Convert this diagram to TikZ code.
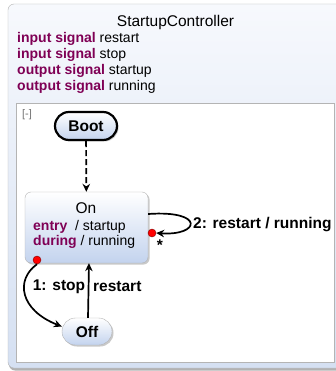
\documentclass[tikz,border=0pt]{standalone}
\usepackage{fontspec}
\setmainfont{Liberation Sans}
\usetikzlibrary{shadows,arrows.meta}
\definecolor{kw}{HTML}{7F0055}
\definecolor{stblue}{HTML}{C3D3EE}
\definecolor{boxtop}{HTML}{F7F9FD}
\definecolor{boxbot}{HTML}{D5E0F2}
\definecolor{frame}{HTML}{B4B4B4}
\begin{document}
\begin{tikzpicture}[x=1pt,y=-1pt,
  bodyfont/.style={font=\fontsize{14}{16}\selectfont},
  bigfont/.style={font=\fontsize{15.5}{18}\selectfont},
  lbl/.style={inner sep=0pt, font=\bfseries\fontsize{15.5}{18}\selectfont},
  statebox/.style={draw=frame, rounded corners=6pt, top color=white, bottom color=stblue,
    drop shadow={shadow xshift=1.5pt, shadow yshift=-1.5pt, fill=black!35, opacity=0.6}, inner sep=0pt},
  edge/.style={line width=1.7pt, -{Stealth[length=8pt,width=7.5pt]}},
  reddot/.style={circle, fill=red, draw=red!50!black, line width=0.4pt, minimum size=8pt, inner sep=0pt}]
\clip (0,0) rectangle (336,371);
\fill[white] (0,0) rectangle (336,371);
% outer box
\fill[black!30, rounded corners=6pt] (9,6) rectangle (352,370.5);
\draw[frame, top color=boxtop, bottom color=boxbot, rounded corners=6pt] (8,4) rectangle (350,368);
\node[bigfont] (title) at (175.5,22) {StartupController};
\node[bodyfont, anchor=base west, inner sep=0pt] (s1) at (17,43) {\textcolor{kw}{\bfseries input signal} restart};
\node[bodyfont, anchor=base west, inner sep=0pt] (s2) at (17,59) {\textcolor{kw}{\bfseries input signal} stop};
\node[bodyfont, anchor=base west, inner sep=0pt] (s3) at (17,75) {\textcolor{kw}{\bfseries output signal} startup};
\node[bodyfont, anchor=base west, inner sep=0pt] (s4) at (17,90.5) {\textcolor{kw}{\bfseries output signal} running};
% inner region
\draw[frame, fill=white] (16,103) rectangle (334,362);
\node[text=black!55, font=\fontsize{11}{12}\selectfont] (collapse) at (27,115) {[-]};
% states
\node[statebox, draw=black, line width=2.2pt, rounded corners=14pt, minimum width=62pt, minimum height=28pt,
  font=\bfseries\fontsize{15.5}{18}\selectfont] (boot) at (86,126) {Boot};
\node[statebox, minimum width=123pt, minimum height=71pt] (on) at (86.5,227.5) {};
\node[bigfont] (ontitle) at (86,208) {On};
\node[bodyfont, anchor=base west, inner sep=0pt] (entry) at (33,230) {\textcolor{kw}{\bfseries entry}\ \ / startup};
\node[bodyfont, anchor=base west, inner sep=0pt] (during) at (33,245.5) {\textcolor{kw}{\bfseries during}\ / running};
\node[statebox, rounded corners=13.5pt, minimum width=50pt, minimum height=27pt,
  font=\bfseries\fontsize{15.5}{18}\selectfont] (off) at (87,331.5) {Off};
% priority dots
\node[reddot] (d1) at (152,233) {};
\node[reddot] (d2) at (37,260) {};
% transitions
\draw[edge, dash pattern=on 6pt off 3pt] (boot) -- (on);
\draw[edge] ([yshift=13.5pt]on.east) .. controls +(57,-4) and +(44,3) .. (d1.east);
\draw[edge] (d2.south) .. controls (15,280) and (20,310) .. ([yshift=5pt]off.west);
\draw[edge] ([xshift=1pt]off.north) -- ([xshift=2.5pt]on.south);
% labels
\node[lbl, anchor=west] (l2) at (193,225) {2: restart / running};
\node[lbl] (star) at (160,245) {*};
\node[lbl] (l1) at (59,287) {1: stop};
\node[lbl, anchor=west] (lr) at (93,287) {restart};
\end{tikzpicture}
\end{document}
